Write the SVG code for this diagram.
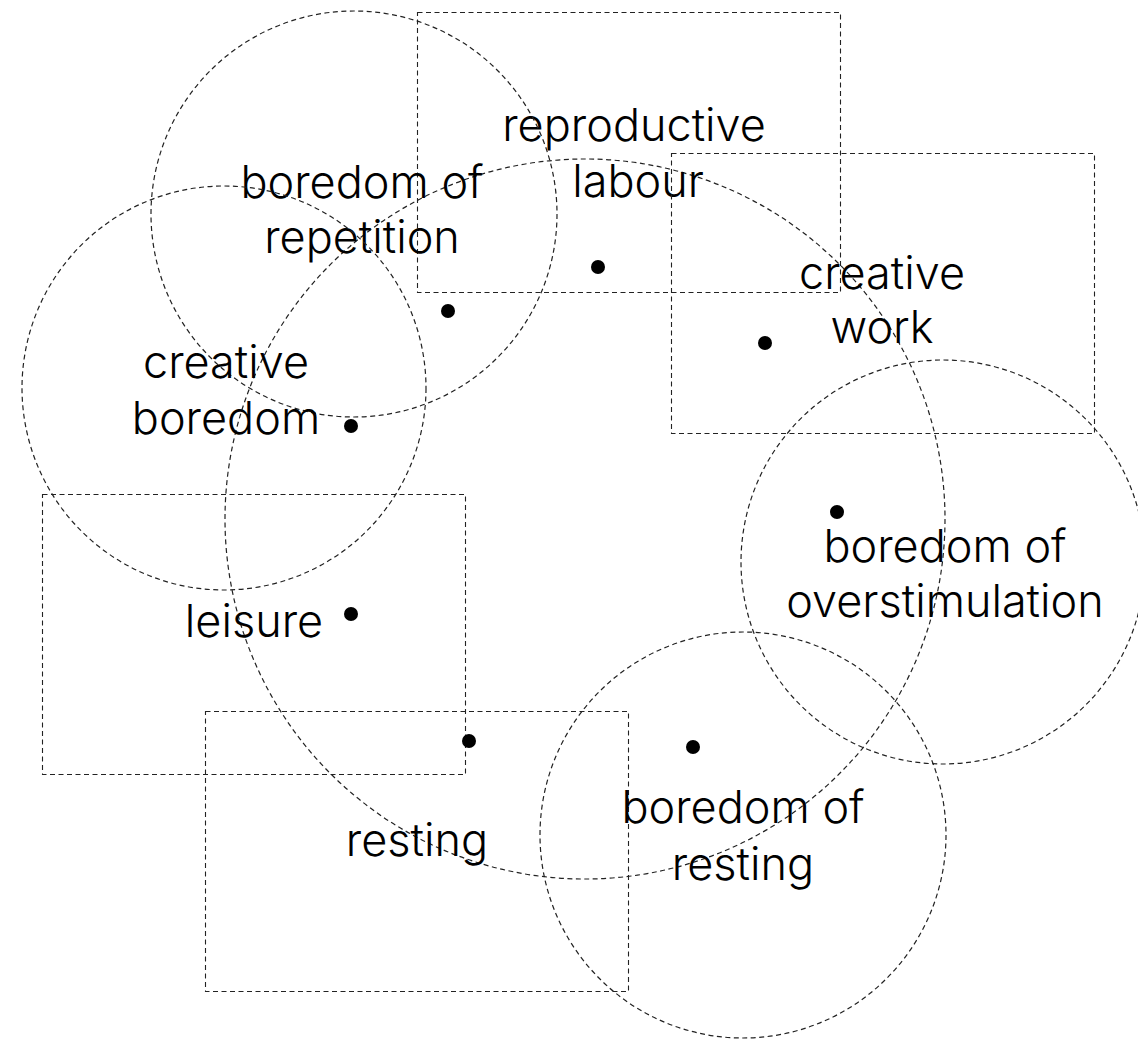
<svg xmlns="http://www.w3.org/2000/svg" width="1138" height="1040" viewBox="0 0 1138 1040">
<style>
.s{fill:none;stroke:#222;stroke-width:1.2;stroke-dasharray:5 3.5}
.r{fill:none;stroke:#222;stroke-width:1.1;stroke-dasharray:5 3.5}
.t{font-family:Inter,"Liberation Sans",sans-serif;font-weight:300;font-size:45px;fill:#000;text-anchor:middle}
.d{fill:#000}
</style>
<rect width="1138" height="1040" fill="#fff"/>
<g id="central"><circle class="s" cx="585" cy="519" r="360"/></g>
<g id="reproductive-labour"><rect class="r" x="417.5" y="12.5" width="423" height="280"/><text class="t" x="634" y="141">reproductive</text><text class="t" x="638" y="197">labour</text></g>
<g id="creative-work"><rect class="r" x="671.5" y="153.5" width="423" height="280"/><text class="t" x="882" y="289">creative</text><text class="t" x="882" y="343">work</text></g>
<g id="leisure"><rect class="r" x="42.5" y="494.5" width="423" height="280"/><text class="t" x="254" y="637">leisure</text></g>
<g id="resting"><rect class="r" x="205.5" y="711.5" width="423" height="280"/><text class="t" x="417" y="856">resting</text></g>
<g id="boredom-of-repetition"><circle class="s" cx="354" cy="214" r="203"/><text class="t" x="362" y="198">boredom of</text><text class="t" x="362" y="253">repetition</text></g>
<g id="creative-boredom"><circle class="s" cx="224" cy="388" r="202"/><text class="t" x="226" y="378">creative</text><text class="t" x="226" y="434">boredom</text></g>
<g id="boredom-of-overstimulation"><circle class="s" cx="943" cy="562" r="202"/><text class="t" x="945" y="562">boredom of</text><text class="t" x="945" y="617">overstimulation</text></g>
<g id="boredom-of-resting"><circle class="s" cx="743" cy="835" r="203"/><text class="t" x="743" y="823">boredom of</text><text class="t" x="743" y="880">resting</text></g>
<g id="dots">
<circle class="d" cx="598" cy="267" r="7"/><circle class="d" cx="448" cy="311" r="7"/><circle class="d" cx="765" cy="343" r="7"/><circle class="d" cx="351" cy="426" r="7"/><circle class="d" cx="837" cy="512" r="7"/><circle class="d" cx="351" cy="614" r="7"/><circle class="d" cx="469" cy="741" r="7"/><circle class="d" cx="693" cy="747" r="7"/>
</g>
</svg>
